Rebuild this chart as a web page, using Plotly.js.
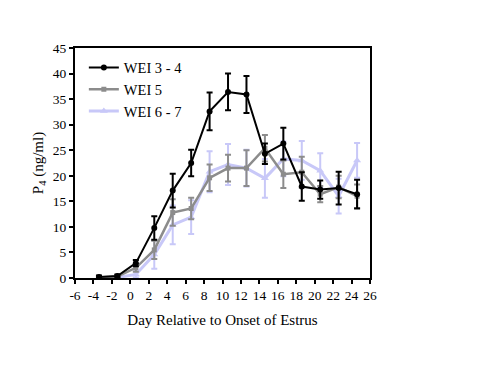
<!DOCTYPE html>
<html>
<head>
<meta charset="utf-8">
<script src="https://cdn.plot.ly/plotly-3.0.1.min.js"></script>
<style>html,body{margin:0;padding:0;background:#fff;}#chart{width:480px;height:377px;}</style>
</head>
<body>
<div id="chart"></div>
<script>
var days = [-3.4, -1.4, 0.6, 2.6, 4.6, 6.6, 8.6, 10.6, 12.6, 14.6, 16.6, 18.6, 20.6, 22.6, 24.6];

var wei34 = [0.2, 0.4, 2.9, 9.8, 17.1, 22.5, 32.6, 36.4, 35.9, 24.3, 26.3, 17.9, 17.3, 17.6, 16.4];
var wei34Err = [0.3, 0.3, 0.6, 2.3, 3.3, 2.6, 3.7, 3.6, 3.6, 2.0, 3.1, 2.8, 1.8, 3.2, 2.8];

var wei5 = [0.1, 0.3, 2.0, 5.5, 12.8, 13.6, 19.6, 21.5, 21.5, 25.4, 20.3, 20.7, 16.4, 17.8, 16.0];
var wei5Err = [0.2, 0.3, 0.8, 1.8, 2.6, 2.1, 2.6, 2.6, 3.5, 2.6, 2.7, 3.0, 1.6, 2.2, 2.3];

var wei67 = [0.0, 0.1, 0.7, 4.6, 10.4, 11.9, 20.8, 22.2, 21.5, 19.5, 23.3, 23.0, 21.0, 16.0, 23.0];
var wei67Err = [0.2, 0.2, 0.6, 2.8, 3.8, 3.3, 4.0, 4.0, 3.6, 3.8, 3.4, 3.8, 3.4, 3.4, 3.4];

var names = ['WEI 3 - 4', 'WEI 5', 'WEI 6 - 7'];
var xTicks = [-6, -4, -2, 0, 2, 4, 6, 8, 10, 12, 14, 16, 18, 20, 22, 24, 26];
var yTicks = [0, 5, 10, 15, 20, 25, 30, 35, 40, 45];

var traces = [
  {
    x: days, y: wei67, name: names[2], type: 'scatter', mode: 'lines+markers',
    line: {color: '#c8c8f8', width: 3},
    marker: {symbol: 'triangle-up', size: 7, color: '#c8c8f8'},
    error_y: {type: 'data', array: wei67Err, visible: true, color: '#c8c8f8', thickness: 2, width: 3}
  },
  {
    x: days, y: wei5, name: names[1], type: 'scatter', mode: 'lines+markers',
    line: {color: '#8c8c8c', width: 2.5},
    marker: {symbol: 'square', size: 5, color: '#8c8c8c'},
    error_y: {type: 'data', array: wei5Err, visible: true, color: '#8c8c8c', thickness: 2, width: 3}
  },
  {
    x: days, y: wei34, name: names[0], type: 'scatter', mode: 'lines+markers',
    line: {color: '#000000', width: 2},
    marker: {symbol: 'circle', size: 6, color: '#000000'},
    error_y: {type: 'data', array: wei34Err, visible: true, color: '#000000', thickness: 2, width: 3}
  }
];

var layout = {
  width: 480, height: 377,
  margin: {l: 75, r: 110, t: 48, b: 99},
  paper_bgcolor: '#ffffff', plot_bgcolor: '#ffffff',
  font: {family: 'Liberation Serif, Times New Roman, serif', size: 13, color: '#000'},
  showlegend: true,
  legend: {
    x: 0.03, y: 0.985, xanchor: 'left', yanchor: 'top',
    traceorder: 'reversed', bgcolor: 'rgba(0,0,0,0)',
    font: {family: 'Liberation Serif, serif', size: 14.5, color: '#000'},
    tracegroupgap: 0
  },
  xaxis: {
    range: [-6, 26], tickvals: xTicks, ticktext: xTicks.map(String),
    showgrid: false, zeroline: false,
    showline: true, linecolor: '#000', linewidth: 2, mirror: true,
    ticks: 'outside', ticklen: 4, tickwidth: 2, tickcolor: '#000',
    tickfont: {size: 13.5},
    title: {text: 'Day Relative to Onset of Estrus', font: {size: 15}, standoff: 12}
  },
  yaxis: {
    range: [0, 45], tickvals: yTicks, ticktext: yTicks.map(String),
    showgrid: false, zeroline: false,
    showline: true, linecolor: '#000', linewidth: 2, mirror: true,
    ticks: 'outside', ticklen: 4, tickwidth: 2, tickcolor: '#000',
    tickfont: {size: 13.5},
    title: {text: 'P<sub>4</sub> (ng/ml)', font: {size: 15}, standoff: 6}
  }
};

Plotly.newPlot('chart', traces, layout, {displayModeBar: false, staticPlot: true});
</script>
</body>
</html>
